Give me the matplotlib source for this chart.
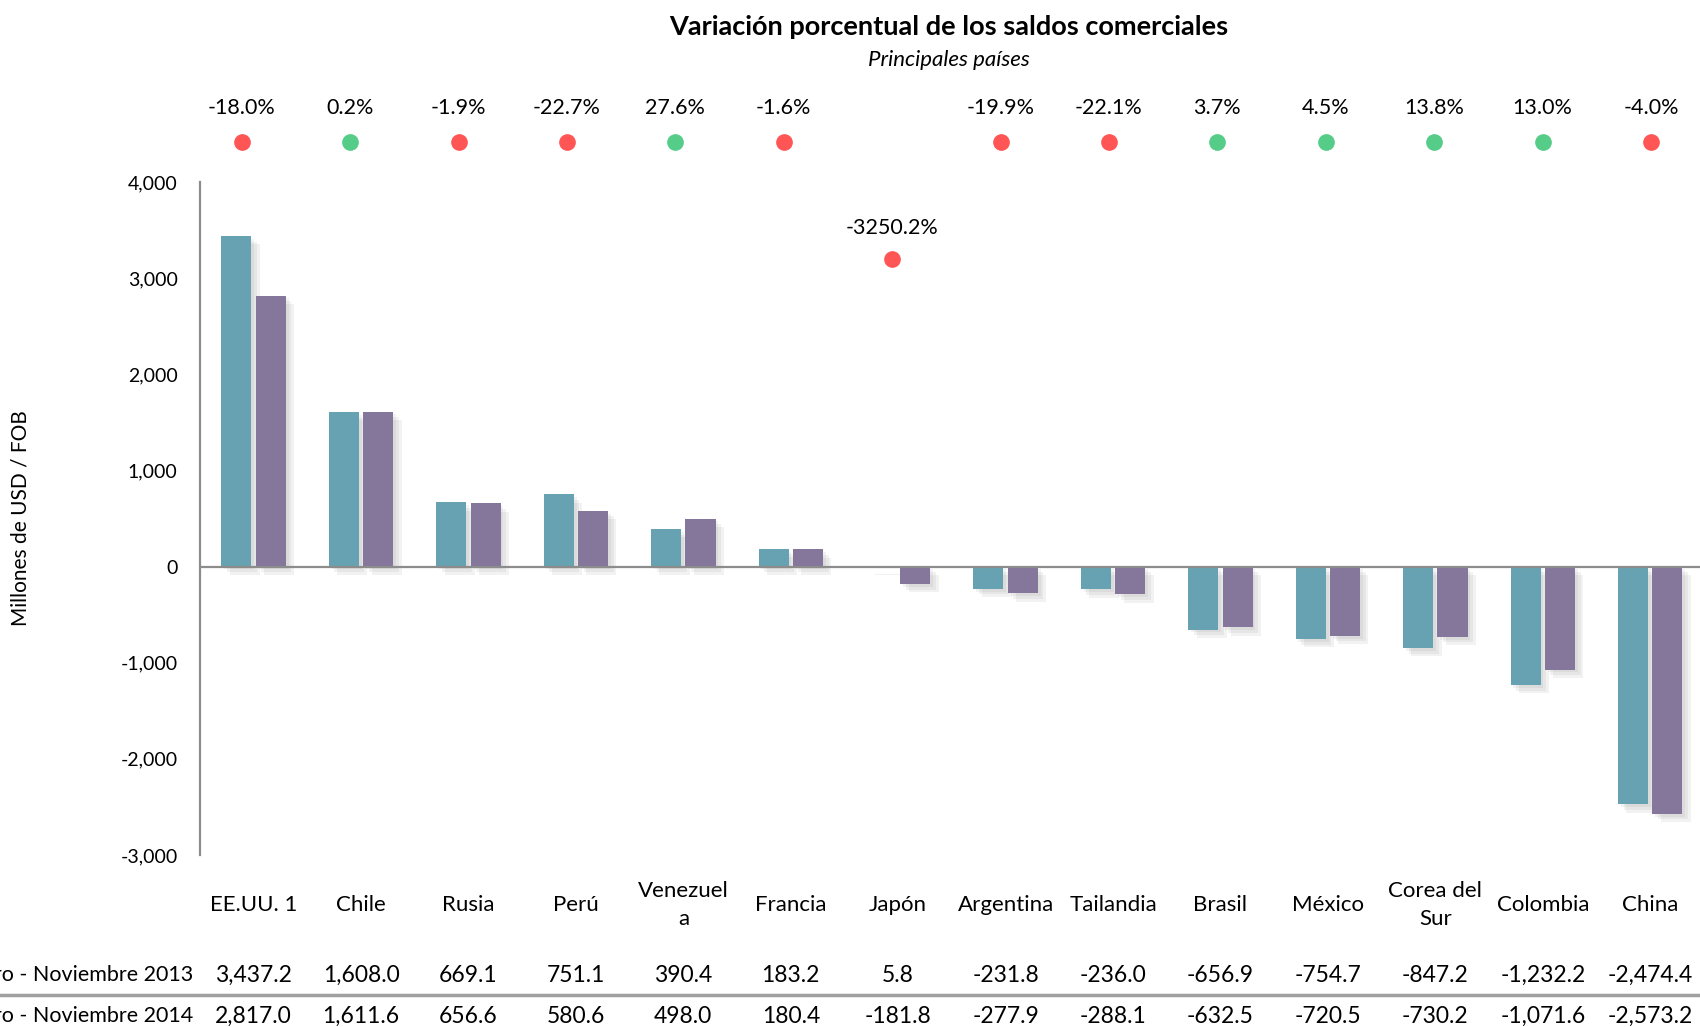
import numpy as np
import matplotlib.pyplot as plt
import matplotlib.patheffects as pe
import matplotlib.transforms as mtransforms

plt.rcParams['font.family'] = ['Lato', 'DejaVu Sans']

# Data
paises = ['EE.UU. 1', 'Chile', 'Rusia', 'Perú', 'Venezuel\na', 'Francia', 'Japón',
          'Argentina', 'Tailandia', 'Brasil', 'México', 'Corea del\nSur', 'Colombia', 'China']
saldo_2013 = [3437.2, 1608.0, 669.1, 751.1, 390.4, 183.2, 5.8,
              -231.8, -236.0, -656.9, -754.7, -847.2, -1232.2, -2474.4]
saldo_2014 = [2817.0, 1611.6, 656.6, 580.6, 498.0, 180.4, -181.8,
              -277.9, -288.1, -632.5, -720.5, -730.2, -1071.6, -2573.2]
variacion = [-18.0, 0.2, -1.9, -22.7, 27.6, -1.6, -3250.2,
             -19.9, -22.1, 3.7, 4.5, 13.8, 13.0, -4.0]
serie_labels = ['Enero - Noviembre 2013', 'Enero - Noviembre 2014']

teal = '#66A2B1'
purple = '#85769B'
rojo = '#FF5555'
verde = '#55CC88'

fig = plt.figure(figsize=(17, 10.27), dpi=100)
ax = fig.add_axes([0.1176, 0.1675, 0.8847, 0.6553])

x = np.arange(len(paises))
w = 0.28
# soft drop shadow built from a few faint offset copies
shadow = [pe.SimplePatchShadow(offset=(o, -o), shadow_rgbFace='#777777', alpha=0.09)
          for o in (2, 4, 6)] + [pe.Normal()]
b1 = ax.bar(x - 0.16, saldo_2013, w, color=teal, zorder=3)
b2 = ax.bar(x + 0.16, saldo_2014, w, color=purple, zorder=3)
for b in list(b1) + list(b2):
    b.set_path_effects(shadow)

ax.axhline(0, color='#8c8c8c', lw=1.6, zorder=4)
ax.set_xlim(-0.5, len(paises) - 0.5)
ax.set_ylim(-3000, 4000)
ax.set_yticks(np.arange(-3000, 4001, 1000))
ax.yaxis.set_major_formatter(plt.FuncFormatter(lambda v, p: f'{v:,.0f}'))
ax.tick_params(axis='y', length=0, pad=16, labelsize=14)
ax.set_xticks([])
for s in ['top', 'right', 'bottom']:
    ax.spines[s].set_visible(False)
ax.spines['left'].set_color('#8c8c8c')
ax.spines['left'].set_linewidth(1.6)

# percentage variation markers
trans = mtransforms.blended_transform_factory(ax.transData, ax.transAxes)
for i, v in enumerate(variacion):
    col = verde if v > 0 else rojo
    xd = i * 1.009 - 0.11
    if i == 6:
        yd, yt = 0.886, 0.932
    else:
        yd, yt = 1.0596, 1.1095
    ax.plot(xd, yd, 'o', ms=11, color=col, transform=trans, clip_on=False, zorder=5)
    ax.text(xd, yt, f'{v:.1f}%', transform=trans, ha='center', va='center', fontsize=15.5)

# category labels and table
trans2 = mtransforms.blended_transform_factory(ax.transData, fig.transFigure)
for i, p in enumerate(paises):
    ax.text(i, 0.1188, p, transform=trans2, ha='center', va='center', fontsize=16,
            linespacing=1.45)
    ax.text(i, 0.0506, f'{saldo_2013[i]:,.1f}', transform=trans2, ha='center', va='center', fontsize=16.5)
    ax.text(i, 0.0107, f'{saldo_2014[i]:,.1f}', transform=trans2, ha='center', va='center', fontsize=16.5)

fig.text(0.1135, 0.0506, serie_labels[0], ha='right', va='center', fontsize=15.5)
fig.text(0.1135, 0.0107, serie_labels[1], ha='right', va='center', fontsize=15.5)
fig.add_artist(plt.Line2D([0, 1], [0.0312, 0.0312], color='#a0a0a0', lw=2.5,
                          transform=fig.transFigure))

fig.text(0.558, 0.9737, 'Variación porcentual de los saldos comerciales',
         ha='center', va='center', fontsize=19.5, fontweight='bold')
fig.text(0.558, 0.9416, 'Principales países', ha='center', va='center',
         fontsize=16, style='italic')
fig.text(0.0118, 0.4956, 'Millones de USD / FOB', rotation=90, ha='center', va='center',
         fontsize=15)

fig.savefig('out.png', dpi=100)
